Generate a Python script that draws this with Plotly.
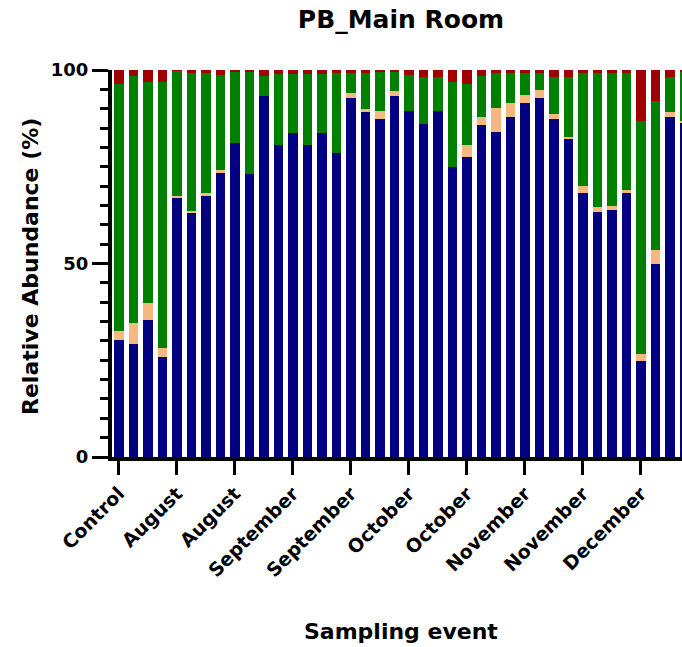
import plotly.graph_objects as go

# Relative abundance (%) per sampling event, stacked bottom to top
navy_pct = [30.3, 29.2, 35.4, 25.8, 67.0, 63.2, 67.4, 73.6, 81.1, 73.2,
            93.2, 80.7, 83.7, 80.7, 83.7, 78.6, 92.7, 89.1, 87.4, 93.2,
            89.5, 86.1, 89.5, 74.9, 77.4, 85.8, 84.1, 87.8, 91.6, 92.7,
            87.4, 82.4, 68.1, 63.3, 63.7, 68.1, 24.9, 50.0, 87.8, 86.2]
tan_pct = [2.2, 5.3, 4.5, 2.4, 0.4, 0.3, 0.7, 0.5, 0.0, 0.0,
           0.0, 0.0, 0.0, 0.0, 0.0, 0.0, 1.3, 0.8, 2.1, 1.4,
           0.0, 0.0, 0.0, 0.0, 3.3, 2.0, 6.1, 3.7, 2.0, 2.1,
           1.2, 0.2, 1.9, 1.2, 1.2, 0.9, 1.8, 3.6, 1.3, 0.7]
green_pct = [64.0, 64.0, 57.0, 68.7, 32.4, 35.7, 31.2, 24.5, 18.3, 26.3,
             5.3, 18.3, 15.2, 18.3, 15.2, 20.6, 5.1, 9.2, 10.2, 5.0,
             9.3, 12.0, 8.6, 21.9, 15.8, 10.7, 8.9, 7.6, 5.5, 4.3,
             9.6, 15.6, 29.3, 34.8, 34.4, 30.3, 60.2, 38.3, 9.1, 12.6]
red_pct = [3.5, 1.5, 3.1, 3.1, 0.2, 0.8, 0.7, 1.4, 0.6, 0.5,
           1.5, 1.0, 1.1, 1.0, 1.1, 0.8, 0.9, 0.9, 0.3, 0.4,
           1.2, 1.9, 1.9, 3.2, 3.5, 1.5, 0.9, 0.9, 0.9, 0.9,
           1.8, 1.8, 0.7, 0.7, 0.7, 0.7, 13.1, 8.1, 1.8, 0.5]

# One label every fourth sampling event
tick_labels = ["Control", "August", "August", "September", "September",
               "October", "October", "November", "November", "December"]

n_bars = len(navy_pct)
bar_x = list(range(n_bars))
tick_x = bar_x[::4][:len(tick_labels)]

W, H = 682, 647
L, R, T, B = 112, 0, 70, 190
FONT = "DejaVu Sans"

fig = go.Figure()
for name, vals, col in [
    ("Group 1", navy_pct, "#000080"),
    ("Group 2", tan_pct, "#F4B880"),
    ("Group 3", green_pct, "#008000"),
    ("Group 4", red_pct, "#A00000"),
]:
    fig.add_trace(go.Bar(x=bar_x, y=vals, name=name, marker_color=col,
                         marker_line_width=0))

pw = W - L - R
ph = H - T - B


def px_to_paper_x(px):
    return (px - L) / pw


def px_to_paper_y(py):
    return (H - B - py) / ph


fig.update_layout(
    width=W, height=H,
    margin=dict(l=L, r=R, t=T, b=B, pad=0),
    barmode="stack",
    bargap=0.35,
    showlegend=False,
    plot_bgcolor="white",
    paper_bgcolor="white",
    font=dict(family=FONT, color="black", size=18, weight="bold"),
    title=dict(text="<b>PB_Main Room</b>", xref="container", yref="container",
               x=401 / W, y=1 - 19 / H, xanchor="center", yanchor="middle",
               font=dict(family=FONT, size=25, color="black")),
    xaxis=dict(
        range=[-0.48, 38.83],
        tickmode="array", tickvals=tick_x, ticktext=tick_labels,
        tickangle=-45,
        ticks="outside", ticklen=14, tickwidth=3, tickcolor="black",
        showline=True, linewidth=4, linecolor="black",
        showgrid=False, zeroline=False,
        tickfont=dict(family=FONT, size=19, color="black", weight="bold"),
    ),
    yaxis=dict(
        range=[0, 100],
        tickmode="array", tickvals=[0, 50, 100],
        ticks="outside", ticklen=16, tickwidth=3, tickcolor="black",
        minor=dict(dtick=5, ticks="outside", ticklen=8, tickwidth=3,
                   tickcolor="black", showgrid=False),
        showline=True, linewidth=4, linecolor="black",
        showgrid=False, zeroline=False,
        tickfont=dict(family=FONT, size=18, color="black", weight="bold"),
    ),
    annotations=[
        dict(text="<b>Sampling event</b>", xref="paper", yref="paper",
             x=px_to_paper_x(401), y=px_to_paper_y(631),
             xanchor="center", yanchor="middle", showarrow=False,
             font=dict(family=FONT, size=22, color="black")),
        dict(text="<b>Relative Abundance (%)</b>", xref="paper", yref="paper",
             x=px_to_paper_x(30), y=px_to_paper_y(267), textangle=-90,
             xanchor="center", yanchor="middle", showarrow=False,
             font=dict(family=FONT, size=22, color="black")),
    ],
)

fig.write_html("out.html")
